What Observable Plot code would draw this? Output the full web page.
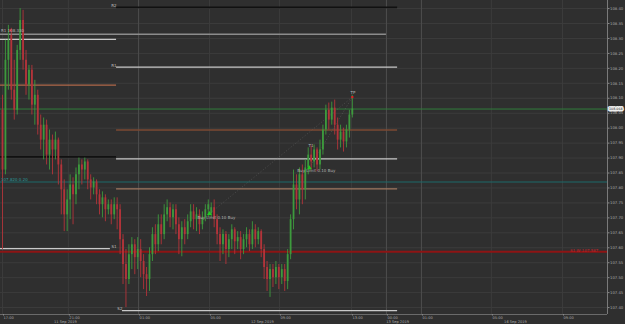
<!DOCTYPE html>
<html><head><meta charset="utf-8">
<script src="https://cdn.jsdelivr.net/npm/d3@7"></script>
<script src="https://cdn.jsdelivr.net/npm/@observablehq/plot@0.6"></script>
<style>html,body{margin:0;padding:0;background:#2f2f2f;overflow:hidden}</style>
</head><body><div id="chart"></div>
<script>
// ---- candle data (one candle per slot) ----
const openP = [108.060,107.860,108.227,108.310,108.127,108.060,108.260,108.360,108.227,108.144,
108.194,108.077,108.110,108.010,107.960,108.010,107.910,107.960,107.927,107.960,
107.877,107.794,107.710,107.760,107.810,107.777,107.844,107.877,107.860,107.887,
107.827,107.800,107.820,107.777,107.744,107.767,107.727,107.744,107.710,107.744,
107.727,107.627,107.544,107.494,107.577,107.610,107.567,107.594,107.554,107.510,
107.494,107.577,107.644,107.610,107.677,107.644,107.710,107.734,107.700,107.727,
107.677,107.627,107.667,107.644,107.687,107.720,107.694,107.710,107.677,107.700,
107.727,107.714,107.734,107.694,107.644,107.610,107.644,107.594,107.627,107.660,
107.620,107.634,107.594,107.627,107.644,107.610,107.660,107.627,107.654,107.594,
107.534,107.494,107.527,107.500,107.534,107.500,107.527,107.487,107.577,107.694,
107.810,107.760,107.844,107.794,107.867,107.910,107.887,107.927,107.877,107.927,
107.994,108.060,108.027,108.067,108.010,107.960,107.987,107.954,107.994,108.044];
const highP = [108.110,108.294,108.344,108.334,108.227,108.277,108.400,108.394,108.260,108.210,
108.210,108.160,108.127,108.044,108.034,108.027,107.994,107.977,107.987,107.967,
107.894,107.827,107.794,107.844,107.834,107.867,107.900,107.894,107.900,107.894,
107.844,107.834,107.827,107.794,107.787,107.777,107.760,107.760,107.767,107.767,
107.744,107.644,107.594,107.610,107.634,107.627,107.634,107.627,107.577,107.534,
107.600,107.667,107.677,107.710,107.710,107.744,107.760,107.750,107.744,107.744,
107.700,107.687,107.694,107.710,107.744,107.744,107.734,107.727,107.720,107.744,
107.760,107.750,107.760,107.710,107.667,107.660,107.654,107.644,107.677,107.667,
107.654,107.654,107.644,107.667,107.660,107.687,107.677,107.667,107.660,107.610,
107.554,107.544,107.544,107.554,107.544,107.544,107.544,107.594,107.710,107.860,
107.844,107.867,107.877,107.894,107.934,107.940,107.944,107.934,107.960,108.010,
108.077,108.084,108.087,108.094,108.034,108.010,108.000,108.010,108.060,108.110];
const lowP = [107.594,107.844,108.127,108.094,108.027,108.044,108.227,108.194,108.110,108.094,
108.044,108.010,107.977,107.927,107.894,107.877,107.860,107.844,107.894,107.810,
107.710,107.654,107.654,107.694,107.677,107.744,107.794,107.810,107.827,107.794,
107.760,107.777,107.744,107.710,107.700,107.687,107.710,107.677,107.694,107.660,
107.577,107.477,107.400,107.477,107.527,107.510,107.527,107.500,107.460,107.437,
107.454,107.554,107.577,107.587,107.610,107.627,107.687,107.667,107.660,107.644,
107.577,107.570,107.610,107.627,107.667,107.660,107.654,107.644,107.660,107.687,
107.700,107.700,107.667,107.610,107.554,107.577,107.544,107.567,107.594,107.577,
107.594,107.560,107.577,107.600,107.587,107.594,107.600,107.610,107.567,107.494,
107.454,107.434,107.467,107.477,107.460,107.477,107.454,107.460,107.560,107.660,
107.727,107.710,107.744,107.760,107.844,107.860,107.867,107.854,107.860,107.910,
107.977,107.994,108.010,107.977,107.927,107.934,107.920,107.934,107.967,108.034];
const closeP = [107.860,108.227,108.294,108.127,108.060,108.260,108.360,108.227,108.144,108.194,
108.077,108.110,108.010,107.960,108.010,107.910,107.960,107.927,107.960,107.877,
107.794,107.710,107.760,107.810,107.777,107.844,107.877,107.860,107.887,107.827,
107.800,107.820,107.777,107.744,107.767,107.727,107.744,107.710,107.744,107.727,
107.627,107.544,107.494,107.577,107.610,107.567,107.594,107.554,107.510,107.494,
107.577,107.644,107.610,107.677,107.644,107.710,107.734,107.700,107.727,107.677,
107.627,107.667,107.644,107.687,107.720,107.694,107.710,107.677,107.700,107.727,
107.744,107.734,107.694,107.644,107.610,107.644,107.594,107.627,107.660,107.620,
107.634,107.594,107.627,107.644,107.610,107.660,107.627,107.654,107.594,107.534,
107.494,107.527,107.500,107.534,107.500,107.527,107.487,107.577,107.694,107.810,
107.760,107.844,107.794,107.867,107.910,107.887,107.927,107.877,107.927,107.994,
108.060,108.027,108.067,108.010,107.960,107.987,107.954,107.994,108.044,108.064];

// ---- axes ----
const priceTicks = [108.40,108.35,108.30,108.25,108.20,108.15,108.10,108.05,108.00,107.95,
107.90,107.85,107.80,107.75,107.70,107.65,107.60,107.55,107.50,107.45,107.40];
const timeTickSlots = [0,22.4,46.3,70.4,94.2,118.7,130.6,142.5,166.3,190.5];
const timeTickLabels = ["17:00","21:00","01:00","05:00","09:00","13:00","00:00","01:00","05:00","09:00"];
const daySepSlots = [46.3,130.6,142.5];
const dateLabels = ["11 Sep 2019","12 Sep 2019","13 Sep 2019","16 Sep 2019"];
const dateLabelSlots = [21.4,88.4,134.4,174.5];

// ---- pivot / level lines ----
const levelNames  = ["R2","","","R1","","","","","","S1","S2"];
const levelPrices = [108.404,108.314,108.297,108.204,108.144,107.994,107.904,107.897,107.797,107.597,107.390];
const levelFrom   = [38.8,-0.7,-0.7,38.8,-0.7,38.8,-0.7,38.8,38.8,-0.7,40.8];
const levelTo     = [134.4,130.6,38.8,134.4,38.8,134.4,38.8,134.4,134.4,36.7,134.4];
const levelKinds  = ["black","gray","light","light","orange","brown","black","light","tan","light","light"];
const fullLinePrices = [108.064,107.820,107.587];
const fullLineKinds  = ["price","teal","red"];

// ---- trade annotations ----
const noteTexts  = ["R1 108.330","107.820 0.20","Buy Limit 0.10 Buy","T1","Buy Limit 0.10 Buy","TP","S1 W 107.587"];
const noteSlots  = [-0.5,-0.5,66.3,104.1,100.3,118.4,202.7];
const notePrices = [108.327,107.826,107.700,107.942,107.858,108.118,107.590];
const noteKinds  = ["light","teal","light","light","light","light","red"];
const entrySlots = [70.4,104.4];
const entryPrices = [107.714,107.867];
const exitSlots = [119,2.7];
const exitPrices = [108.104,108.327];
const tpSlot = 119, tpPrice = 108.104;

// ---- styles ----
const styles = {
  black:{stroke:"#111111",w:1.6}, gray:{stroke:"#8c8c8c",w:1.6}, light:{stroke:"#c9c9c9",w:1.2},
  orange:{stroke:"#b0684a",w:1.2}, brown:{stroke:"#7d4a33",w:1.4}, tan:{stroke:"#a07860",w:1.1},
  price:{stroke:"#2f7d3a",w:1}, teal:{stroke:"#1c6a6a",w:1.2}, red:{stroke:"#8e1414",w:2}
};
const textColors = {light:"#b5b5b5", teal:"#2a9a9a", red:"#c0262c"};
const textAnchors = {light:"start", teal:"start", red:"end"};
const up = "#3d9a3d", down = "#b3343a";

const candles = openP.map((o,i)=>({slot:i, open:o, high:highP[i], low:lowP[i], close:closeP[i],
  col: closeP[i] >= o ? up : down}));
const levels = levelPrices.map((p,i)=>({price:p, from:levelFrom[i], to:levelTo[i], kind:levelKinds[i], name:levelNames[i]}));
const fulls = fullLinePrices.map((p,i)=>({price:p, kind:fullLineKinds[i]}));
const notes = noteTexts.map((t,i)=>({text:t, slot:noteSlots[i], price:notePrices[i], kind:noteKinds[i]}));
const xDomain = [-0.68, 205.8];
const yDomain = [108.427 - 314/299, 108.427];

const kindsUsed = Object.keys(styles);
const levelMarks = kindsUsed.map(k => Plot.ruleY(levels.filter(d=>d.kind===k), {
  y:"price", x1:"from", x2:"to", stroke: styles[k].stroke, strokeWidth: styles[k].w}));
const fullMarks = kindsUsed.map(k => Plot.ruleY(fulls.filter(d=>d.kind===k), {
  y:"price", stroke: styles[k].stroke, strokeWidth: styles[k].w}));
const noteMarks = Object.keys(textColors).map(k => Plot.text(notes.filter(d=>d.kind===k), {
  x:"slot", y:"price", text:"text", fill:textColors[k],
  textAnchor: textAnchors[k], fontSize: 4}));

const chart = Plot.plot({
  width: 625, height: 324,
  marginLeft: 0, marginRight: 18, marginTop: 0, marginBottom: 10,
  style: {background:"#2f2f2f", color:"#9a9a9a", fontFamily:"DejaVu Sans", fontSize:"4px"},
  x: {domain: xDomain, axis: null},
  y: {domain: yDomain, axis: null},
  color: {type: "identity"},
  marks: [
    Plot.ruleY(priceTicks, {stroke:"#3c3c3c", strokeWidth:1}),
    Plot.ruleX(timeTickSlots, {stroke:"#3c3c3c", strokeWidth:1}),
    Plot.ruleX(daySepSlots, {stroke:"#4d4d4d", strokeWidth:1}),
    ...levelMarks,
    ...fullMarks,
    Plot.text(levels.filter(d=>d.name && d.from > 0), {x:"from", y:"price", text:"name", fill:"#bdbdbd",
      textAnchor:"end", dy:-1.5, fontSize:4}),
    Plot.text(levels.filter(d=>d.name && d.from < 0), {x:"to", y:"price", text:"name", fill:"#bdbdbd",
      textAnchor:"start", dx:1, dy:-1.5, fontSize:4}),
    Plot.link(entrySlots.map((s,i)=>({s, p:entryPrices[i]})), {x1:"s", y1:"p", x2:()=>tpSlot, y2:()=>tpPrice,
      stroke:"#777", strokeOpacity:0.5, strokeDasharray:"1,2", strokeWidth:0.8}),
    Plot.ruleX(candles, {x:"slot", y1:"low", y2:"high", stroke:"col", strokeWidth:0.9}),
    Plot.ruleX(candles, {x:"slot", y1:"open", y2:"close", stroke:"col", strokeWidth:1.8}),
    Plot.dot(entrySlots.map((s,i)=>({s, p:entryPrices[i]})), {x:"s", y:"p", symbol:"triangle", r:1.8, fill:"#22cc22", stroke:"none"}),
    Plot.dot(exitSlots.map((s,i)=>({s, p:exitPrices[i]})), {x:"s", y:"p", symbol:"square", r:1.2, fill:"#e02020", stroke:"none"}),
    ...noteMarks,
    // right price axis
    Plot.ruleX([xDomain[1]], {stroke:"#7a7a7a", strokeWidth:1}),
    Plot.axisY({anchor:"right", ticks: priceTicks, tickFormat: d=>d.toFixed(2), tickSize:1.5, tickPadding:1,
      fontSize:3.8, stroke:"#8a8a8a", fill:"#a8a8a8"}),
    Plot.text([closeP[closeP.length-1]], {x:()=>xDomain[1], y:d=>d, text:d=>d.toFixed(3), dx:1.5,
      textAnchor:"start", fill:"#222", stroke:"#eeeeee", strokeWidth:3, fontSize:3.3}),
    // bottom time axis
    Plot.ruleY([yDomain[0]], {stroke:"#6a6a6a", strokeWidth:1}),
    Plot.axisX({anchor:"bottom", ticks: timeTickSlots,
      tickFormat: d=>timeTickLabels[timeTickSlots.indexOf(d)], tickSize:1.5, tickPadding:0,
      textAnchor:"start", dx:1, fontSize:3.6, stroke:"#8a8a8a", fill:"#a8a8a8"}),
    Plot.text(dateLabelSlots.map((s,i)=>({s, t:dateLabels[i]})), {x:"s", frameAnchor:"bottom", text:"t",
      lineAnchor:"top", dy:6, fontSize:3.6, fill:"#a8a8a8"})
  ]
});
document.getElementById("chart").appendChild(chart);
</script>
</body></html>
